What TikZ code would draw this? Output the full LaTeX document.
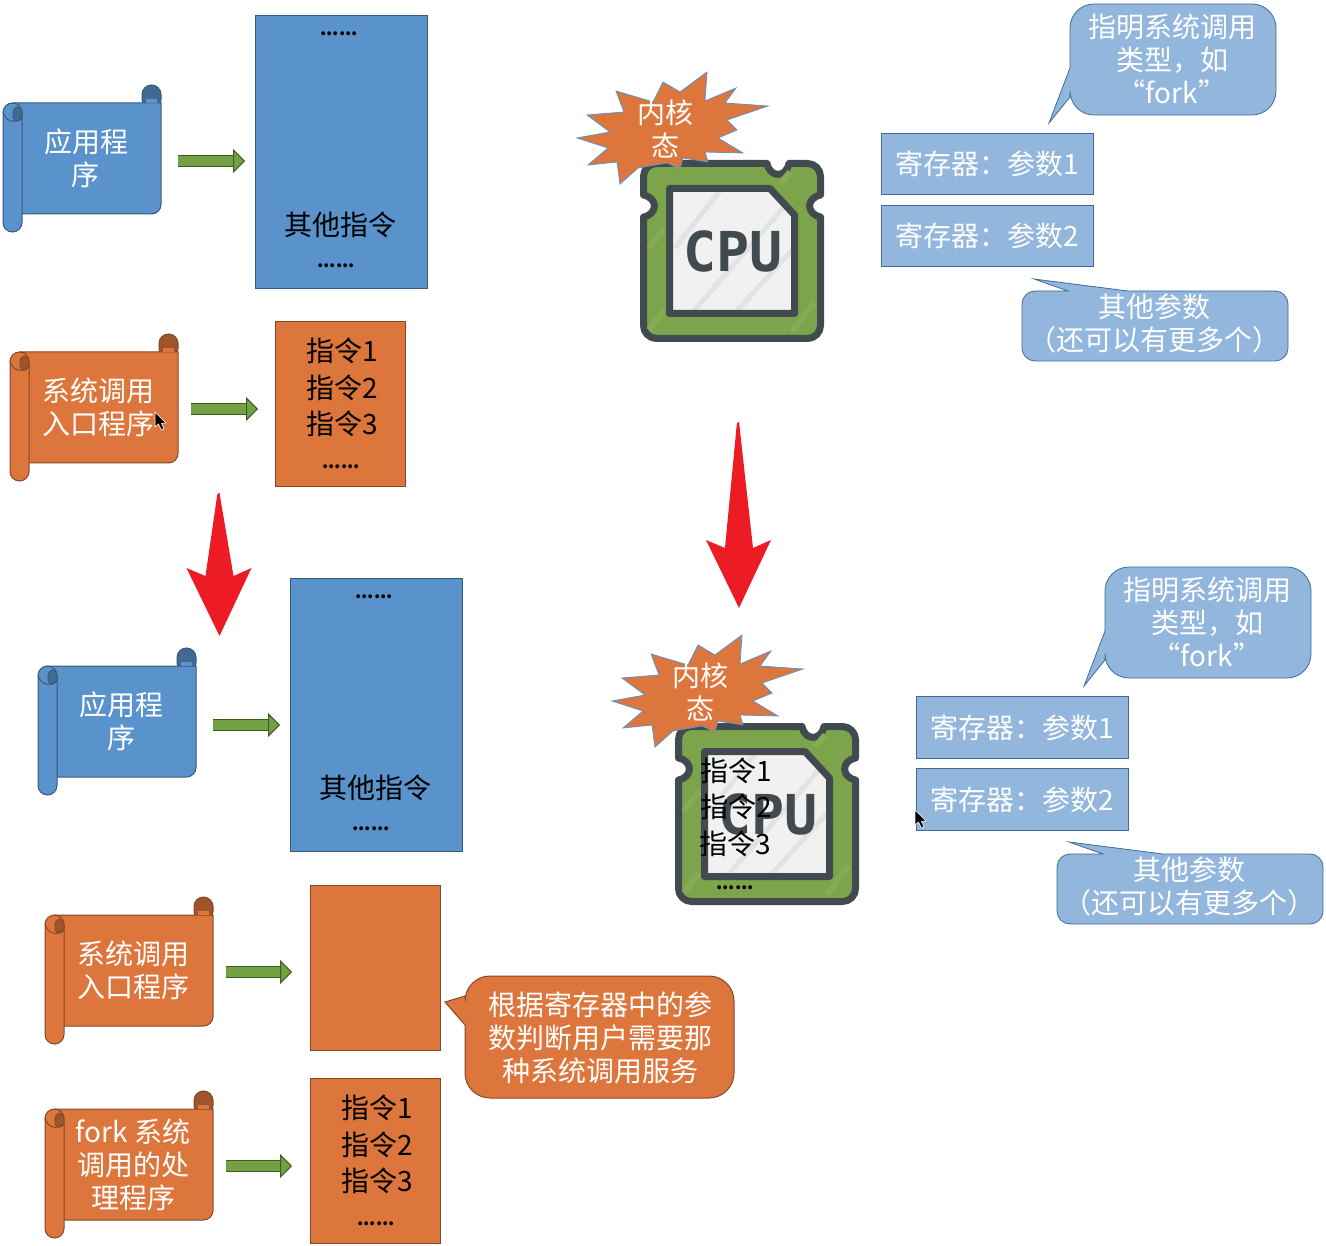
\documentclass[tikz,border=0pt]{standalone}
\usepackage{fontspec}
\setmainfont{Noto Sans CJK SC}
\newfontfamily\chipfont{DejaVu Sans Mono}
\usepackage{xcolor}
\usepackage{tikz}
\usetikzlibrary{arrows.meta}
\usetikzlibrary{positioning}
\definecolor{appblue}{HTML}{5A93CB}
\definecolor{sysorange}{HTML}{DD763D}
\definecolor{noteblue}{HTML}{93B6DC}
\definecolor{noteedge}{HTML}{3F6C9C}
\definecolor{flowgreen}{HTML}{72A042}
\definecolor{flowedge}{HTML}{3E5F22}
\definecolor{alarmred}{HTML}{ED1C24}
\definecolor{chipgreen}{HTML}{7CA44A}
\definecolor{chipstripe}{HTML}{85AB54}
\definecolor{chipdark}{HTML}{414B4F}
\definecolor{dieface}{HTML}{F1F1F1}
\definecolor{diestripe}{HTML}{E2E3E2}
\newcommand{\bodyfont}{\fontsize{28}{33}\selectfont}
\tikzset{
label text/.style = { draw = none, fill = none, inner sep = 0pt, align = center, font = \bodyfont },
light text/.style = { label text, text = white },
dark text/.style = { label text, text = black },
dots text/.style = { label text, text = black, font = \fontsize{18}{18}\selectfont\bfseries },
panel/.style = { rectangle, anchor = north west, inner sep = 0pt, outer sep = 0pt, line width = 1pt },
blue panel/.style = { panel, draw = appblue!60!black, fill = appblue, minimum width = 172pt, minimum height = 273pt },
orange panel/.style = { panel, draw = sysorange!60!black, fill = sysorange, minimum width = 130pt, minimum height = 165pt },
reg box/.style = { rectangle, draw = noteedge, fill = noteblue, text = white, line width = 0.8pt, font = \bodyfont, minimum width = 212pt, minimum height = 61.5pt, inner sep = 0pt, outer sep = 0pt },
flow arrow/.style = { draw = flowedge, line width = 1pt, double = flowgreen, double distance = 10pt, -{Triangle[length = 12pt, width = 24pt, fill = flowgreen, color = flowedge, line width = 1pt]} },
}
\tikzset{
pics/scroll/.style args={#1, #2, #3}{
        code = {
        % curl on the top right, then the sheet, then the roll on the left
        \path[draw = #2!60!black, fill = #2!72!black, line width = 1pt, rounded corners = 9.5pt] (#3-19, 24) -- (#3-19, 0) -- (#3, 0) -- (#3, 24) -- cycle;
        \path[draw = #2!60!black, fill = #2, line width = 1pt] (10, 18) -- (#3, 18) [rounded corners = 9.5pt] -- (#3, 129) [sharp corners] -- (10, 129) -- cycle;
        \path[fill = #2] (#3-15, 14) -- (#3-4, 14) -- (#3-4, 18) -- (#3-15, 18) -- cycle;
        \path[draw = #2!60!black, fill = #2, line width = 1pt, rounded corners = 9.5pt] (0, 60) -- (0, 18) -- (19, 18) -- (19, 147) -- (0, 147) -- cycle;
        \path[draw = #2!60!black, fill = #2!72!black, line width = 0.8pt] (10, 28) .. controls (10, 20) and (19, 20) .. (19, 28) -- (19, 32) .. controls (16, 38) and (12, 37) .. (10, 33) -- cycle;
        \path[draw = #2!60!black, line width = 1pt] (0, 27) .. controls (2, 35) and (10, 40) .. (19, 33);
        \node[light text] (-label) at (#3/2+4, 73.5) {#1};
        }
    },
pics/chip/.style args={#1}{
        code = {
        \path[draw = chipdark, fill = chipgreen, line width = 7pt, line join = round] (60, 3.5) -- (127, 3.5) .. controls (130, 18) and (146, 18) .. (149, 3.5) [rounded corners = 13pt] -- (180.5, 3.5) [sharp corners] -- (180.5, 35) .. controls (166, 38) and (166, 54) .. (180.5, 57) [rounded corners = 13pt] -- (180.5, 178.5) -- (3.5, 178.5) [sharp corners] -- (3.5, 57) .. controls (18, 54) and (18, 38) .. (3.5, 35) [rounded corners = 13pt] -- (3.5, 3.5) -- cycle;
        \path[draw = chipstripe, line width = 6pt] (9, 88) -- (24, 68) (152, 172) -- (174, 142) (9, 170) -- (24, 150) (140, 24) -- (150, 12);
        \begin{scope}
        \clip (29.5, 28.5) -- (130, 28.5) -- (154.5, 55) -- (154.5, 153.5) -- (29.5, 153.5) -- cycle;
        \path[fill = dieface] (0, 0) rectangle (184, 182);
        \path[draw = diestripe, line width = 5pt] (35, 88) -- (82, 28) (52, 153) -- (150, 40) (95, 153) -- (154, 88);
        \end{scope}
        \path[draw = chipdark, line width = 7pt, line join = round] (29.5, 28.5) -- (130, 28.5) -- (154.5, 55) -- (154.5, 153.5) -- (29.5, 153.5) -- cycle;
        \node[draw = none, fill = none, inner sep = 0pt, text = chipdark, font = \chipfont\fontsize{55}{55}\selectfont\bfseries] (-label) at (93, 91) {#1};
        }
    },
pics/burst/.style args={#1}{
        code = {
        \path[draw = appblue, fill = sysorange, line width = 0.8pt] (46, 31) -- (54, 52) -- (17, 55) -- (40, 72) -- (7, 78) -- (38, 88) -- (18, 105) -- (47, 102) -- (50, 124) -- (68, 108) -- (97, 103) -- (110, 109) -- (113, 98) -- (138, 102) -- (135, 92) -- (173, 93) -- (148, 78) -- (167, 70) -- (157, 60) -- (198, 46) -- (155, 43) -- (166, 28) -- (135, 41) -- (137, 12) -- (110, 32) -- (93, 22) -- (83, 42) -- cycle;
        \node[light text] (-label) at (95, 69) {#1};
        }
    },
pics/type note/.style args={#1}{
        code = {
        \path[draw = noteedge, fill = noteblue, line width = 0.8pt] (100, 0) [rounded corners = 24pt] -- (227, 0) -- (227, 111) -- (21, 111) [sharp corners] -- (21, 93) -- (0, 119) -- (21, 64) [rounded corners = 24pt] -- (21, 0) -- cycle;
        \node[light text] (-label) at (123, 55) {#1};
        }
    },
pics/more note/.style args={#1}{
        code = {
        \path[draw = noteedge, fill = noteblue, line width = 0.8pt] (150, 12) [rounded corners = 13pt] -- (254, 12) -- (254, 82) -- (-12, 82) -- (-12, 12) [sharp corners] -- (34, 12) -- (0, 0) -- (94, 12) -- cycle;
        \node[light text] (-label) at (120, 45) {#1};
        }
    },
pics/alarm/.style args={#1}{
        code = {
        \path[fill = alarmred, rounded corners = 1.5pt] (0, 0) [sharp corners] -- (14, #1+8) -- (32, #1) -- (0, #1+68) -- (-33, #1) -- (-14, #1+8) [rounded corners = 1.5pt] -- (-2, 0) -- (2, 0) [sharp corners] -- cycle;
        }
    },
pics/pointer/.style args={#1}{
        code = {
        \path[draw = #1, fill = black, line width = 0.6pt] (0, 0) -- (0, 15) -- (3.5, 12) -- (6.5, 18) -- (9, 17) -- (6.5, 11.5) -- (11, 11) -- cycle;
        }
    }
}

\begin{document}
\begin{tikzpicture}[x = 1pt, y = -1pt]
    \useasboundingbox (0, 0) rectangle (1326, 1246);
    % first state, left side
    \draw (3, 85) pic (appA) {scroll = {{应用程\\序}, appblue, 158}};
    \node[blue panel] (stackA) at (255.5, 15.5) {};
    \node[dots text] (stackAtop) at (339, 33.5) {......};
    \node[dark text] (stackAtext) at (340, 225) {其他指令};
    \node[dots text] (stackAend) at (336, 266) {......};
    \coordinate (appAout) at (178, 161);
    \coordinate (stackAin) at (245, 161);
    \draw[flow arrow] (appAout) -- (stackAin);
    \draw (10, 334) pic (entryA) {scroll = {{系统调用\\入口程序}, sysorange, 168}};
    \node[orange panel] (codeA) at (275.5, 321.5) {};
    \node[dark text] (codeAone) at (342, 351) {指令1};
    \node[dark text] (codeAtwo) at (342, 388) {指令2};
    \node[dark text] (codeAthree) at (342, 424) {指令3};
    \node[dots text] (codeAend) at (341, 467) {......};
    \coordinate (entryAout) at (191, 409);
    \coordinate (codeAin) at (258, 409);
    \draw[flow arrow] (entryAout) -- (codeAin);
    \draw (155, 412) pic (cursorA) {pointer = {white}};
    % first state, right side
    \draw (640, 160) pic (cpuA) {chip = {CPU}};
    \draw (570, 60) pic (modeA) {burst = {{内核\\态}}};
    \draw (1049, 4) pic (typeA) {type note = {{指明系统调用\\类型，如\\“fork”}}};
    \node[reg box] (regAone) at (987, 164) {寄存器：参数1};
    \node[reg box] (regAtwo) at (987, 236) {寄存器：参数2};
    \draw (1034, 279) pic (moreA) {more note = {{其他参数\hspace{20pt}\\（还可以有更多个）}}};
    % the two big arrows
    \draw (219.5, 493) pic (downA) {alarm = {75}};
    \draw (739, 422) pic (downB) {alarm = {118}};
    % second state, left side
    \draw (38, 648) pic (appB) {scroll = {{应用程\\序}, appblue, 158}};
    \node[blue panel] (stackB) at (290.5, 578.5) {};
    \node[dots text] (stackBtop) at (374, 596.5) {......};
    \node[dark text] (stackBtext) at (375, 788) {其他指令};
    \node[dots text] (stackBend) at (371, 829) {......};
    \coordinate (appBout) at (213, 725);
    \coordinate (stackBin) at (280, 725);
    \draw[flow arrow] (appBout) -- (stackBin);
    \draw (45, 897) pic (entryB) {scroll = {{系统调用\\入口程序}, sysorange, 168}};
    \node[orange panel] (codeB) at (310.5, 885) {};
    \coordinate (entryBout) at (226, 972);
    \coordinate (codeBin) at (292, 972);
    \draw[flow arrow] (entryBout) -- (codeBin);
    \draw (45, 1091) pic (forkB) {scroll = {{fork 系统\\调用的处\\理程序}, sysorange, 168}};
    \node[orange panel] (codeC) at (310.5, 1078.5) {};
    \node[dark text] (codeCone) at (377, 1108) {指令1};
    \node[dark text] (codeCtwo) at (377, 1145) {指令2};
    \node[dark text] (codeCthree) at (377, 1181) {指令3};
    \node[dots text] (codeCend) at (376, 1224) {......};
    \coordinate (forkBout) at (226, 1166);
    \coordinate (codeCin) at (292, 1166);
    \draw[flow arrow] (forkBout) -- (codeCin);
    \path[draw = sysorange!60!black, fill = sysorange, line width = 1pt] (600, 976) [rounded corners = 25pt] -- (734, 976) -- (734, 1098) -- (465, 1098) [sharp corners] -- (465, 1025) -- (445, 1002) -- (465, 996) [rounded corners = 25pt] -- (465, 976) -- cycle;
    \node[light text] (serviceNote) at (600, 1038) {根据寄存器中的参\\数判断用户需要那\\种系统调用服务};
    % second state, right side
    \draw (675, 723) pic (cpuB) {chip = {CPU}};
    \draw (605, 623) pic (modeB) {burst = {{内核\\态}}};
    \node[dark text] (cpuCodeOne) at (736, 771) {指令1};
    \node[dark text] (cpuCodeTwo) at (736, 807) {指令2};
    \node[dark text] (cpuCodeThree) at (735, 844) {指令3};
    \node[dots text] (cpuCodeEnd) at (735, 888) {......};
    \draw (1084, 567) pic (typeB) {type note = {{指明系统调用\\类型，如\\“fork”}}};
    \node[reg box] (regBone) at (1022, 727.5) {寄存器：参数1};
    \node[reg box] (regBtwo) at (1022, 799.5) {寄存器：参数2};
    \draw (1069, 842) pic (moreB) {more note = {{其他参数\hspace{20pt}\\（还可以有更多个）}}};
    \draw (915, 810) pic (cursorB) {pointer = {white}};
\end{tikzpicture}
\end{document}
